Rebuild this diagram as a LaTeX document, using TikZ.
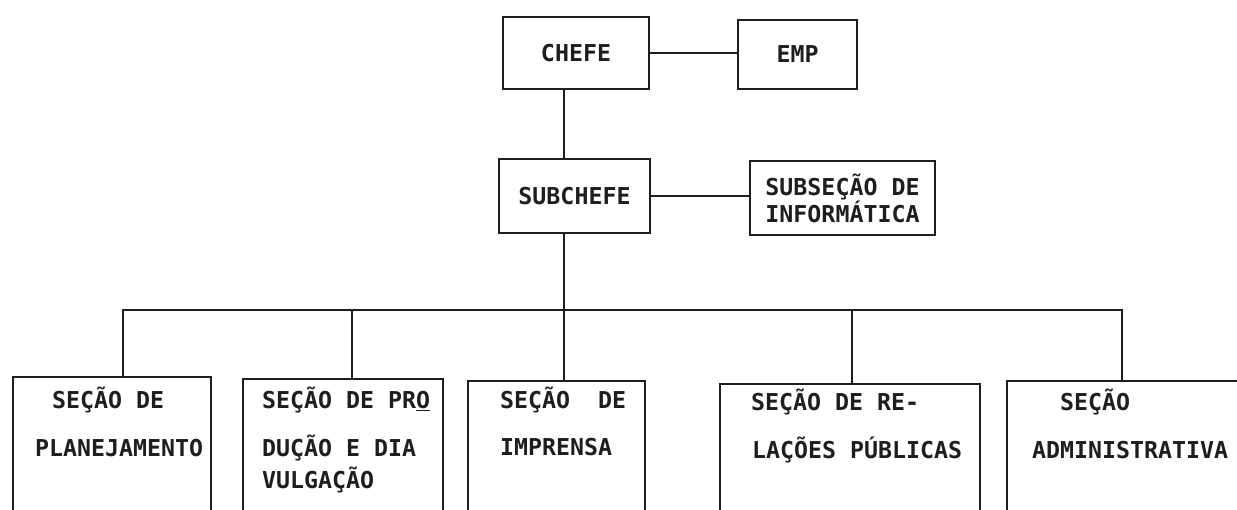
\documentclass[tikz,border=0pt]{standalone}
\usepackage{fontspec}
\setmonofont{DejaVu Sans Mono}
\definecolor{ink}{HTML}{1E1E1E}
\newcommand\twfont{\ttfamily\bfseries\fontsize{23.26pt}{27pt}\selectfont}
\begin{document}
\begin{tikzpicture}[x=1pt,y=-1pt,
  box/.style={draw=ink,line width=1.6pt,rectangle,inner sep=0pt,outer sep=0pt,font=\twfont,text=ink},
  txt/.style={font=\twfont,text=ink,inner sep=0pt,text height=17pt,text depth=0pt,anchor=west},
  wire/.style={draw=ink,line width=1.6pt,line join=miter}]
\useasboundingbox (0,0) rectangle (1237,509);
% top boxes
\node[box,minimum width=146pt,minimum height=72pt] (chefe) at (576,53) {CHEFE};
\node[box,minimum width=119pt,minimum height=69pt] (emp) at (797.5,54.5) {EMP};
\node[box,minimum width=151pt,minimum height=74pt] (sub) at (574.5,196) {SUBCHEFE};
\node[box,minimum width=185pt,minimum height=74pt,align=left] (info) at (842.5,198) {SUBSEÇÃO DE\\INFORMÁTICA};
% bottom boxes (cut by the lower edge)
\node[box,anchor=north west,minimum width=198pt,minimum height=160pt] (s1) at (13,377) {};
\node[box,anchor=north west,minimum width=200pt,minimum height=160pt] (s2) at (243,379) {};
\node[box,anchor=north west,minimum width=177pt,minimum height=160pt] (s3) at (468,381) {};
\node[box,anchor=north west,minimum width=260pt,minimum height=160pt] (s4) at (720,384) {};
\node[box,anchor=north west,minimum width=260pt,minimum height=160pt] (s5) at (1007,381) {};
% texts of the bottom boxes
\node[txt] (s1a) at (52,400) {SEÇÃO DE};
\node[txt] (s1b) at (35,448) {PLANEJAMENTO};
\node[txt] (s2a) at (262,400) {SEÇÃO DE PR\underline{O}};
\node[txt] (s2b) at (262,448) {DUÇÃO E DIA};
\node[txt] (s2c) at (262,480) {VULGAÇÃO};
\node[txt] (s3a) at (500,400) {SEÇÃO\ \ DE};
\node[txt] (s3b) at (500,447) {IMPRENSA};
\node[txt] (s4a) at (751,402) {SEÇÃO DE RE-};
\node[txt] (s4b) at (752,450) {LAÇÕES PÚBLICAS};
\node[txt] (s5a) at (1060,402) {SEÇÃO};
\node[txt] (s5b) at (1032,450) {ADMINISTRATIVA};
% bus coordinates
\coordinate (d1) at (123,310);
\coordinate (d2) at (352,310);
\coordinate (d3) at (564,310);
\coordinate (d4) at (852,310);
\coordinate (d5) at (1122,310);
% connectors
\draw[wire] (chefe.south -| d3) -- (sub.north -| d3);
\draw[wire] (sub.south -| d3) -- (s3.north -| d3);
\draw[wire] (chefe.east) -- (chefe.east -| emp.west);
\draw[wire] (sub.east) -- (sub.east -| info.west);
\draw[wire] (s1.north -| d1) -- (d1) -- (d5) -- (s5.north -| d5);
\draw[wire] (d2) -- (s2.north -| d2);
\draw[wire] (d4) -- (s4.north -| d4);
\end{tikzpicture}
\end{document}
